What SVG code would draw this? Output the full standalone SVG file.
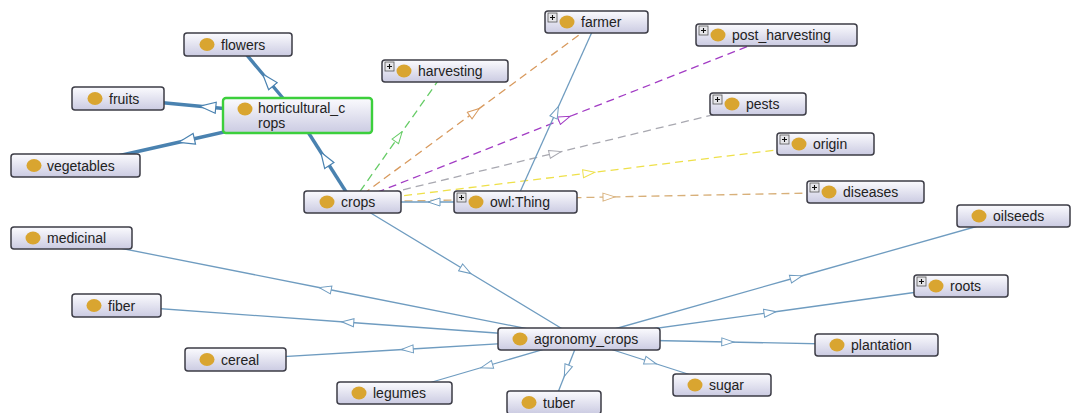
<svg xmlns="http://www.w3.org/2000/svg" xmlns:xlink="http://www.w3.org/1999/xlink" width="1072" height="413" viewBox="0 0 1072 413">
<style>
  .box{fill:url(#nodeGrad);stroke:#3c3c46;stroke-width:1.5}
  .sel{fill:url(#nodeGrad);stroke:#3ccf3c;stroke-width:2.4}
  .dot{fill:#d9a530}
  .lbl{font-family:"Liberation Sans",Arial,sans-serif;font-size:14px;fill:#222}
  .e{fill:none;stroke:#6f9cc0;stroke-width:1.3;marker-mid:url(#mThin)}
  .et{fill:none;stroke:#4a82b0;stroke-width:3.4;marker-mid:url(#mThick)}
  .d{fill:none;stroke-width:1.3;stroke-dasharray:8 5}
  .dg{stroke:#66cc66;marker-mid:url(#mG)}
  .do{stroke:#d89a5e;marker-mid:url(#mO)}
  .dp{stroke:#a23cc4;marker-mid:url(#mP)}
  .dy{stroke:#a8a8b0;marker-mid:url(#mY)}
  .dl{stroke:#eee04a;marker-mid:url(#mL)}
  .dt{stroke:#d8b07a;marker-mid:url(#mT)}
</style>
<defs>
  <linearGradient id="nodeGrad" x1="0" y1="0" x2="0" y2="1">
    <stop offset="0" stop-color="#fbfbfe"/>
    <stop offset="1" stop-color="#cbcbe2"/>
  </linearGradient>
  <marker id="mThin" markerUnits="userSpaceOnUse" viewBox="0 0 14 10" refX="7" refY="5" markerWidth="14" markerHeight="10" orient="auto">
    <path d="M1,1 L13,5 L1,9 Z" fill="#fff" stroke="#6f9cc0" stroke-width="1"/>
  </marker>
  <marker id="mThick" markerUnits="userSpaceOnUse" viewBox="0 0 18 13" refX="9" refY="6.5" markerWidth="18" markerHeight="13" orient="auto">
    <path d="M1,1 L17,6.5 L1,12 Z" fill="#fff" stroke="#4a82b0" stroke-width="1.2"/>
  </marker>
  <marker id="mG" markerUnits="userSpaceOnUse" viewBox="0 0 14 10" refX="7" refY="5" markerWidth="14" markerHeight="10" orient="auto">
    <path d="M1,1 L13,5 L1,9 Z" fill="#fff" stroke="#66cc66" stroke-width="1"/>
  </marker>
  <marker id="mO" markerUnits="userSpaceOnUse" viewBox="0 0 14 10" refX="7" refY="5" markerWidth="14" markerHeight="10" orient="auto">
    <path d="M1,1 L13,5 L1,9 Z" fill="#fff" stroke="#d89a5e" stroke-width="1"/>
  </marker>
  <marker id="mP" markerUnits="userSpaceOnUse" viewBox="0 0 14 10" refX="7" refY="5" markerWidth="14" markerHeight="10" orient="auto">
    <path d="M1,1 L13,5 L1,9 Z" fill="#fff" stroke="#a23cc4" stroke-width="1"/>
  </marker>
  <marker id="mY" markerUnits="userSpaceOnUse" viewBox="0 0 14 10" refX="7" refY="5" markerWidth="14" markerHeight="10" orient="auto">
    <path d="M1,1 L13,5 L1,9 Z" fill="#fff" stroke="#a8a8b0" stroke-width="1"/>
  </marker>
  <marker id="mL" markerUnits="userSpaceOnUse" viewBox="0 0 14 10" refX="7" refY="5" markerWidth="14" markerHeight="10" orient="auto">
    <path d="M1,1 L13,5 L1,9 Z" fill="#fff" stroke="#eee04a" stroke-width="1"/>
  </marker>
  <marker id="mT" markerUnits="userSpaceOnUse" viewBox="0 0 14 10" refX="7" refY="5" markerWidth="14" markerHeight="10" orient="auto">
    <path d="M1,1 L13,5 L1,9 Z" fill="#fff" stroke="#d8b07a" stroke-width="1"/>
  </marker>
  <g id="plus">
    <rect x="0" y="0" width="9" height="9" fill="#e6e6ea" stroke="#555" stroke-width="0.8"/>
    <path d="M2,4.5 H7 M4.5,2 V7" stroke="#111" stroke-width="1.1"/>
  </g>
</defs>
<rect width="1072" height="413" fill="#fff"/>

<g id="connectors">
  <path class="d dt" d="M352.5,202 L609,197 L865.5,192"/>
  <path class="d dg" d="M352.5,202 L398.75,136.5 L445,71"/>
  <path class="d do" d="M352.5,202 L474.5,112 L596.5,22"/>
  <path class="d dp" d="M352.5,202 L564.5,118.5 L776.5,35"/>
  <path class="d dy" d="M352.5,202 L555.25,153 L758,104"/>
  <path class="d dl" d="M352.5,202 L589,173 L825.5,144"/>
  <path class="et" d="M297.5,115.5 L267.75,80 L238,44.5"/>
  <path class="et" d="M297.5,115.5 L207.75,107 L118,98.5"/>
  <path class="et" d="M297.5,115.5 L186.5,140.5 L75.5,165.5"/>
  <path class="et" d="M352.5,202 L325,158.75 L297.5,115.5"/>
  <path class="e" d="M515.5,202 L434,202 L352.5,202"/>
  <path class="e" d="M515.5,202 L556,112 L596.5,22"/>
  <path class="e" d="M352.5,202 L465.75,270.5 L579,339"/>
  <path class="e" d="M579,339 L325.25,288.75 L71.5,238.5"/>
  <path class="e" d="M579,339 L347.75,322.25 L116.5,305.5"/>
  <path class="e" d="M579,339 L407.25,349.25 L235.5,359.5"/>
  <path class="e" d="M579,339 L486.75,366 L394.5,393"/>
  <path class="e" d="M579,339 L566.5,370.75 L554,402.5"/>
  <path class="e" d="M579,339 L650.5,362 L722,385"/>
  <path class="e" d="M579,339 L727.75,342 L876.5,345"/>
  <path class="e" d="M579,339 L770,312.5 L961,286"/>
  <path class="e" d="M579,339 L796.25,277.5 L1013.5,216"/>
</g>

<g id="node-flowers">
  <rect class="box" x="184" y="33" width="108" height="23" rx="3"/>
  <ellipse class="dot" cx="207" cy="44.5" rx="7.5" ry="6.5"/>
  <text class="lbl" x="221" y="49.5">flowers</text>
</g>
<g id="node-fruits">
  <rect class="box" x="72" y="87" width="92" height="23" rx="3"/>
  <ellipse class="dot" cx="95" cy="98.5" rx="7.5" ry="6.5"/>
  <text class="lbl" x="109" y="103.5">fruits</text>
</g>
<g id="node-horticultural_crops">
  <rect class="sel" x="223" y="98" width="149" height="35" rx="3"/>
  <ellipse class="dot" cx="245" cy="109" rx="7.5" ry="6.5"/>
  <text class="lbl" x="258" y="113">horticultural_c</text>
  <text class="lbl" x="258" y="128">rops</text>
</g>
<g id="node-vegetables">
  <rect class="box" x="11" y="154" width="129" height="23" rx="3"/>
  <ellipse class="dot" cx="34" cy="165.5" rx="7.5" ry="6.5"/>
  <text class="lbl" x="47" y="170.5">vegetables</text>
</g>
<g id="node-crops">
  <rect class="box" x="304" y="191" width="97" height="22" rx="3"/>
  <ellipse class="dot" cx="327" cy="202" rx="7.5" ry="6.5"/>
  <text class="lbl" x="341" y="207">crops</text>
</g>
<g id="node-owlThing">
  <rect class="box" x="454" y="191" width="123" height="22" rx="3"/>
  <use xlink:href="#plus" x="457" y="193"/>
  <ellipse class="dot" cx="476" cy="202" rx="7.5" ry="6.5"/>
  <text class="lbl" x="490" y="207">owl:Thing</text>
</g>
<g id="node-farmer">
  <rect class="box" x="545" y="11" width="103" height="22" rx="3"/>
  <use xlink:href="#plus" x="548" y="13"/>
  <ellipse class="dot" cx="567" cy="22" rx="7.5" ry="6.5"/>
  <text class="lbl" x="581" y="27">farmer</text>
</g>
<g id="node-harvesting">
  <rect class="box" x="382" y="60" width="126" height="22" rx="3"/>
  <use xlink:href="#plus" x="385" y="62"/>
  <ellipse class="dot" cx="404" cy="71" rx="7.5" ry="6.5"/>
  <text class="lbl" x="418" y="76">harvesting</text>
</g>
<g id="node-post_harvesting">
  <rect class="box" x="696" y="24" width="161" height="22" rx="3"/>
  <use xlink:href="#plus" x="699" y="26"/>
  <ellipse class="dot" cx="718" cy="35" rx="7.5" ry="6.5"/>
  <text class="lbl" x="732" y="40">post_harvesting</text>
</g>
<g id="node-pests">
  <rect class="box" x="710" y="93" width="96" height="22" rx="3"/>
  <use xlink:href="#plus" x="713" y="95"/>
  <ellipse class="dot" cx="732" cy="104" rx="7.5" ry="6.5"/>
  <text class="lbl" x="746" y="109">pests</text>
</g>
<g id="node-origin">
  <rect class="box" x="777" y="133" width="97" height="22" rx="3"/>
  <use xlink:href="#plus" x="780" y="135"/>
  <ellipse class="dot" cx="799" cy="144" rx="7.5" ry="6.5"/>
  <text class="lbl" x="813" y="149">origin</text>
</g>
<g id="node-diseases">
  <rect class="box" x="807" y="181" width="117" height="22" rx="3"/>
  <use xlink:href="#plus" x="810" y="183"/>
  <ellipse class="dot" cx="829" cy="192" rx="7.5" ry="6.5"/>
  <text class="lbl" x="843" y="197">diseases</text>
</g>
<g id="node-oilseeds">
  <rect class="box" x="957" y="205" width="113" height="22" rx="3"/>
  <ellipse class="dot" cx="979" cy="216" rx="7.5" ry="6.5"/>
  <text class="lbl" x="993" y="221">oilseeds</text>
</g>
<g id="node-roots">
  <rect class="box" x="914" y="275" width="94" height="22" rx="3"/>
  <use xlink:href="#plus" x="917" y="277"/>
  <ellipse class="dot" cx="936" cy="286" rx="7.5" ry="6.5"/>
  <text class="lbl" x="950" y="291">roots</text>
</g>
<g id="node-plantation">
  <rect class="box" x="815" y="334" width="123" height="22" rx="3"/>
  <ellipse class="dot" cx="837" cy="345" rx="7.5" ry="6.5"/>
  <text class="lbl" x="851" y="350">plantation</text>
</g>
<g id="node-sugar">
  <rect class="box" x="673" y="374" width="98" height="22" rx="3"/>
  <ellipse class="dot" cx="695" cy="385" rx="7.5" ry="6.5"/>
  <text class="lbl" x="709" y="390">sugar</text>
</g>
<g id="node-tuber">
  <rect class="box" x="507" y="391" width="94" height="23" rx="3"/>
  <ellipse class="dot" cx="529" cy="402.5" rx="7.5" ry="6.5"/>
  <text class="lbl" x="543" y="407.5">tuber</text>
</g>
<g id="node-legumes">
  <rect class="box" x="337" y="382" width="115" height="22" rx="3"/>
  <ellipse class="dot" cx="359" cy="393" rx="7.5" ry="6.5"/>
  <text class="lbl" x="373" y="398">legumes</text>
</g>
<g id="node-cereal">
  <rect class="box" x="185" y="348" width="101" height="23" rx="3"/>
  <ellipse class="dot" cx="207" cy="359.5" rx="7.5" ry="6.5"/>
  <text class="lbl" x="221" y="364.5">cereal</text>
</g>
<g id="node-fiber">
  <rect class="box" x="72" y="294" width="89" height="23" rx="3"/>
  <ellipse class="dot" cx="94" cy="305.5" rx="7.5" ry="6.5"/>
  <text class="lbl" x="108" y="310.5">fiber</text>
</g>
<g id="node-medicinal">
  <rect class="box" x="11" y="227" width="121" height="22" rx="3"/>
  <ellipse class="dot" cx="33" cy="238" rx="7.5" ry="6.5"/>
  <text class="lbl" x="47" y="243">medicinal</text>
</g>
<g id="node-agronomy_crops">
  <rect class="box" x="498" y="328" width="162" height="22" rx="3"/>
  <ellipse class="dot" cx="520" cy="339" rx="7.5" ry="6.5"/>
  <text class="lbl" x="534" y="344">agronomy_crops</text>
</g>
</svg>
